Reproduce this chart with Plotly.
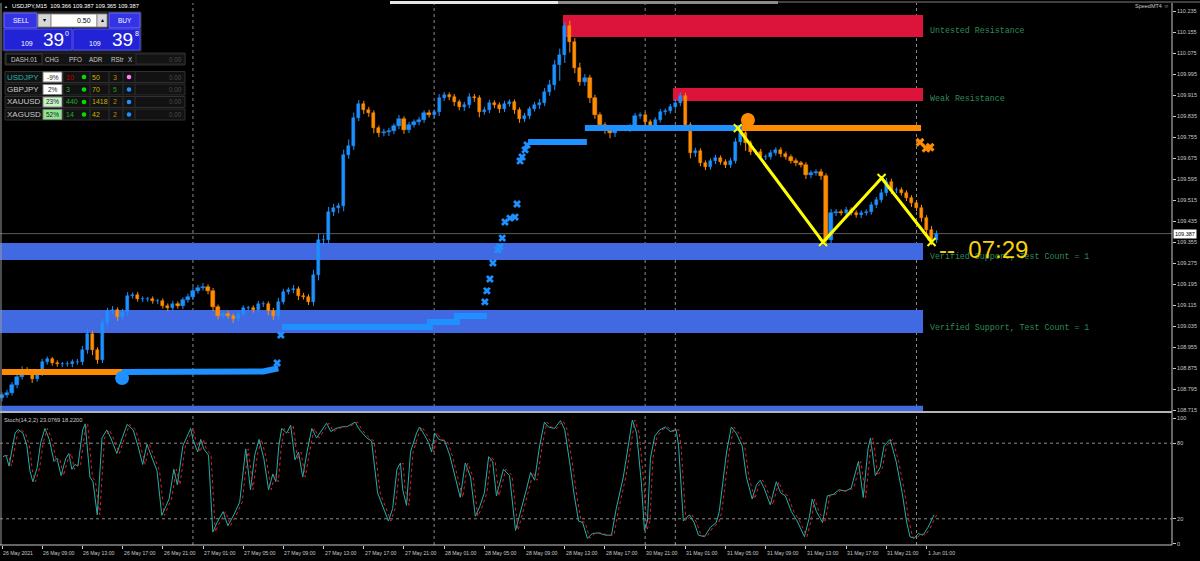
import plotly.graph_objects as go

# ---------------- data ----------------
close_prices = [
    108.772, 108.780, 108.810, 108.841, 108.868, 108.860, 108.833, 108.856, 108.898, 108.909,
    108.894, 108.890, 108.890, 108.890, 108.898, 108.898, 108.944, 109.005, 108.944, 108.906,
    109.047, 109.092, 109.096, 109.069, 109.088, 109.149, 109.153, 109.138, 109.138, 109.138,
    109.130, 109.130, 109.111, 109.104, 109.119, 109.111, 109.134, 109.146, 109.168, 109.180,
    109.184, 109.168, 109.107, 109.073, 109.081, 109.073, 109.062, 109.081, 109.104, 109.104,
    109.096, 109.119, 109.119, 109.092, 109.073, 109.127, 109.165, 109.172, 109.176, 109.149,
    109.146, 109.127, 109.229, 109.363, 109.363, 109.469, 109.485, 109.492, 109.687, 109.721,
    109.828, 109.881, 109.858, 109.847, 109.789, 109.770, 109.774, 109.778, 109.797, 109.824,
    109.782, 109.801, 109.812, 109.820, 109.847, 109.839, 109.850, 109.904, 109.915, 109.907,
    109.888, 109.869, 109.877, 109.907, 109.904, 109.850, 109.858, 109.885, 109.877, 109.862,
    109.881, 109.888, 109.858, 109.824, 109.835, 109.862, 109.877, 109.885, 109.927, 109.953,
    110.029, 110.067, 110.178, 110.117, 110.018, 109.965, 109.980, 109.904, 109.839, 109.801,
    109.782, 109.770, 109.789, 109.789, 109.789, 109.793, 109.835, 109.839, 109.812, 109.797,
    109.820, 109.850, 109.854, 109.869, 109.885, 109.911, 109.801, 109.694, 109.702, 109.656,
    109.641, 109.664, 109.675, 109.660, 109.649, 109.664, 109.736, 109.770, 109.732, 109.698,
    109.698, 109.679, 109.679, 109.694, 109.706, 109.690, 109.679, 109.664, 109.656, 109.649,
    109.610, 109.618, 109.622, 109.607, 109.363, 109.466, 109.469, 109.466, 109.477, 109.466,
    109.458, 109.466, 109.469, 109.496, 109.515, 109.542, 109.584, 109.553, 109.553, 109.542,
    109.523, 109.504, 109.485, 109.447, 109.401, 109.363, 109.387,
]
# upper / lower wick lengths of each candle (price units)
wick_up = [
    .010, .012, .012, .010, .014, .010, .010, .012, .012, .010,
    .008, .010, .008, .010, .010, .012, .015, .020, .012, .010,
    .015, .012, .015, .010, .012, .015, .010, .012, .010, .008,
    .010, .008, .010, .010, .012, .010, .010, .012, .015, .012,
    .015, .010, .012, .010, .010, .012, .010, .012, .010, .008,
    .010, .012, .010, .010, .012, .015, .012, .010, .015, .010,
    .012, .010, .020, .025, .020, .020, .015, .012, .020, .025,
    .020, .015, .012, .012, .010, .010, .012, .012, .010, .015,
    .010, .012, .010, .012, .010, .012, .010, .015, .012, .010,
    .012, .010, .012, .015, .012, .010, .012, .012, .010, .010,
    .012, .010, .010, .010, .012, .010, .012, .015, .015, .020,
    .020, .025, .015, .020, .015, .020, .015, .012, .012, .010,
    .010, .010, .012, .010, .010, .012, .012, .010, .010, .010,
    .010, .012, .010, .012, .015, .015, .012, .010, .012, .010,
    .010, .010, .012, .010, .010, .012, .015, .020, .012, .010,
    .010, .012, .010, .012, .010, .010, .010, .010, .010, .008,
    .010, .010, .010, .012, .010, .015, .012, .010, .012, .010,
    .010, .010, .010, .012, .012, .015, .015, .012, .010, .010,
    .010, .010, .010, .012, .010, .015, .012,
]
wick_down = [
    .012, .010, .010, .012, .010, .012, .015, .010, .012, .010,
    .010, .010, .012, .010, .012, .010, .012, .015, .020, .015,
    .012, .010, .012, .015, .010, .012, .010, .010, .012, .010,
    .010, .012, .010, .012, .010, .010, .012, .010, .012, .010,
    .010, .012, .015, .012, .010, .010, .015, .010, .010, .012,
    .010, .010, .012, .015, .015, .012, .010, .010, .012, .015,
    .010, .012, .015, .020, .020, .015, .015, .020, .020, .015,
    .015, .012, .015, .015, .020, .015, .012, .015, .012, .012,
    .015, .012, .010, .012, .012, .010, .012, .015, .012, .012,
    .015, .012, .015, .012, .015, .020, .010, .012, .012, .015,
    .012, .010, .015, .015, .012, .012, .010, .015, .012, .015,
    .020, .060, .030, .040, .020, .015, .015, .020, .015, .015,
    .015, .020, .015, .012, .012, .015, .012, .010, .012, .012,
    .012, .010, .012, .010, .010, .012, .015, .020, .015, .012,
    .012, .010, .012, .010, .012, .012, .010, .012, .030, .012,
    .012, .010, .012, .010, .010, .012, .010, .010, .012, .010,
    .015, .012, .010, .015, .012, .015, .012, .010, .012, .010,
    .010, .012, .010, .010, .012, .010, .012, .015, .012, .010,
    .012, .015, .012, .015, .020, .020, .012,
]
first_open = 108.760
bars_per_sample = 2
current_price = 109.387

# supply / demand zones (price low, price high)
zone_support_1 = [109.287, 109.351]
zone_support_2 = [109.008, 109.096]
zone_support_3 = [108.690, 108.731]
zone_untested = [110.136, 110.220]
zone_weak = [109.892, 109.942]
zone_start_bars = {"untested": 223.3, "weak": 267.1}
zone_end_bar = 366.6
# zone label prices (text centre)
zone_label_prices = {"untested": 110.159, "weak": 109.900, "support_1": 109.298,
                     "support_2": 109.031}

# zigzag
zigzag_bars = [292.9, 326.8, 350.1, 370.0]
zigzag_prices = [109.789, 109.355, 109.599, 109.355]

# trailing-stop style line (bar, price)
trail_orange_1_bars = [0, 47.8]
trail_orange_1_prices = [108.860, 108.860]
trail_blue_1_bars = [47.8, 104, 110]
trail_blue_1_prices = [108.860, 108.862, 108.874]
trail_blue_2_bars = [111.4, 170.3, 170.3, 181.1, 181.1, 193]
trail_blue_2_prices = [109.031, 109.031, 109.050, 109.050, 109.073, 109.073]
trail_blue_3_bars = [209.4, 232.8]
trail_blue_3_prices = [109.736, 109.736]
trail_blue_4_bars = [232.0, 294.5]
trail_blue_4_prices = [109.789, 109.789]
trail_orange_2_bars = [294.5, 365.8]
trail_orange_2_prices = [109.789, 109.789]
trail_x_blue_bars = [109.5, 111.0, 192.2, 193.0, 194.2, 195.4, 197.4, 198.2, 199.1, 200.2, 202.2,
                     204.2, 205.0, 206.2, 207.0, 208.2, 209.0]
trail_x_blue_prices = [108.894, 109.001, 109.127, 109.169, 109.214, 109.275, 109.325, 109.336,
                       109.370, 109.431, 109.446, 109.450, 109.500, 109.664, 109.679, 109.706, 109.725]
trail_x_orange_bars = [365.4, 367.8, 369.4]
trail_x_orange_prices = [109.735, 109.712, 109.716]
dot_blue = [47.8, 108.837]
dot_orange = [296.9, 109.820]

# stochastic main line (bar, value)
stoch_bars = [
    0.4, 1.6, 2.8, 5.2, 6.4, 8.3, 9.9, 11.1, 12.3, 14.0,
    15.4, 17.1, 18.8, 20.7, 21.9, 23.5, 25.4, 26.6, 27.8, 29.0,
    30.2, 32.1, 33.1, 35.0, 36.2, 37.9, 39.8, 41.7, 43.3, 45.7,
    47.4, 49.8, 52.2, 54.1, 56.0, 57.7, 59.3, 61.7, 63.6, 66.5,
    68.4, 69.8, 72.0, 73.6, 75.1, 76.0, 77.9, 79.1, 80.3, 82.2,
    83.9, 85.6, 88.0, 89.9, 92.3, 94.6, 97.0, 98.9, 100.6, 102.3,
    104.2, 106.1, 107.8, 109.0, 110.2, 111.3, 113.3, 114.9, 116.6, 118.0,
    119.7, 121.4, 123.3, 125.2, 126.9, 129.2, 130.9, 132.8, 135.2, 137.6,
    140.5, 142.4, 145.2, 147.1, 149.5, 151.9, 153.8, 155.5, 157.2, 158.6,
    159.5, 161.0, 162.6, 165.0, 166.2, 168.1, 169.8, 171.0, 172.2, 173.9,
    176.2, 178.2, 180.1, 182.4, 184.4, 186.5, 188.4, 190.1, 192.0, 193.7,
    195.3, 196.8, 199.6, 202.0, 204.4, 206.8, 208.7, 210.4, 212.0, 214.0,
    215.9, 217.5, 219.9, 222.3, 224.0, 225.9, 227.8, 229.5, 231.1, 233.0,
    235.0, 237.3, 240.2, 242.6, 244.5, 247.3, 249.3, 250.9, 252.6, 254.5,
    255.7, 256.9, 258.1, 259.8, 261.7, 264.0, 266.0, 268.3, 269.3, 271.2,
    273.6, 275.5, 277.2, 279.6, 282.0, 284.3, 285.5, 288.4, 290.3, 292.2,
    294.6, 296.3, 298.6, 300.3, 301.8, 303.4, 305.8, 308.2, 309.9, 311.8,
    314.2, 316.5, 319.4, 321.3, 322.5, 324.2, 326.6, 328.5, 330.9, 333.2,
    335.6, 338.0, 340.9, 342.8, 344.7, 345.7, 347.6, 349.5, 351.1, 353.5,
    355.9, 358.3, 360.0, 361.4, 363.1, 364.7, 366.6, 368.6, 371.0,
]
stoch_main = [
    69.3, 70.5, 61.8, 88.0, 90.9, 88.0, 78.0, 58.1, 49.4, 60.6,
    80.5, 91.7, 83.0, 65.5, 68.0, 54.3, 68.0, 71.8, 59.3, 63.1,
    61.8, 90.5, 95.4, 53.1, 49.4, 23.2, 84.2, 90.5, 84.2, 71.8,
    81.7, 94.9, 90.5, 78.0, 63.1, 79.2, 70.5, 58.1, 22.7, 35.7,
    59.3, 46.9, 78.0, 85.5, 91.7, 83.0, 73.0, 83.0, 75.5, 70.5,
    9.5, 17.0, 25.7, 14.5, 23.2, 33.2, 75.5, 43.1, 70.5, 83.0,
    68.0, 43.1, 55.6, 49.4, 78.0, 91.7, 88.0, 94.2, 66.8, 73.0,
    53.1, 73.0, 91.7, 84.2, 89.2, 95.9, 89.2, 91.7, 92.9, 93.4,
    96.7, 90.5, 84.2, 81.7, 40.6, 28.2, 18.2, 28.2, 59.3, 64.3,
    43.1, 30.7, 73.0, 88.0, 92.9, 86.7, 80.5, 73.0, 88.0, 83.0,
    81.7, 70.5, 55.6, 36.9, 64.3, 53.1, 22.0, 29.4, 40.6, 69.3,
    65.5, 38.2, 59.3, 54.3, 10.8, 28.2, 43.1, 56.8, 50.6, 78.0,
    96.7, 92.9, 91.7, 97.9, 90.5, 65.5, 38.2, 18.2, 17.0, 4.5,
    8.3, 8.8, 7.0, 7.0, 28.2, 53.1, 78.0, 98.4, 88.0, 48.1,
    10.8, 18.2, 68.0, 85.5, 90.5, 92.9, 89.2, 90.9, 78.0, 18.2,
    23.2, 17.0, 7.0, 5.8, 13.3, 17.0, 25.7, 73.0, 92.9, 88.0,
    78.0, 53.1, 35.7, 46.9, 50.6, 43.9, 31.1, 49.4, 40.6, 38.2,
    25.7, 18.2, 5.8, 20.7, 35.7, 25.7, 17.0, 38.2, 39.4, 43.1,
    41.9, 44.4, 65.5, 36.9, 75.5, 84.2, 54.3, 60.6, 78.0, 83.0,
    65.5, 40.6, 18.2, 5.8, 4.5, 8.3, 7.0, 13.3, 23.1,
]
signal_lag_bars = 1

day_separator_bars = [76, 172, 256, 268, 364]
time_labels = ["26 May 2021", "26 May 09:00", "26 May 13:00", "26 May 17:00", "26 May 21:00",
               "27 May 01:00", "27 May 05:00", "27 May 09:00", "27 May 13:00", "27 May 17:00",
               "27 May 21:00", "28 May 01:00", "28 May 05:00", "28 May 09:00", "28 May 13:00",
               "28 May 17:00", "30 May 21:00", "31 May 01:00", "31 May 05:00", "31 May 09:00",
               "31 May 13:00", "31 May 17:00", "31 May 21:00", "1 Jun 01:00"]
time_label_bars = [16 * i for i in range(len(time_labels))]
price_ticks = [108.715, 108.795, 108.875, 108.955, 109.035, 109.115, 109.195, 109.275, 109.355,
               109.435, 109.515, 109.595, 109.675, 109.755, 109.835, 109.915, 109.995, 110.075,
               110.155, 110.235]
stoch_ticks = [0, 20, 80, 100]

dash_symbols = ["USDJPY", "GBPJPY", "XAUUSD", "XAGUSD"]
dash_chg = ["-9%", "2%", "23%", "52%"]
dash_pfo = ["10", "3", "440", "14"]
dash_adr = ["50", "70", "1418", "42"]
dash_rstr = ["3", "5", "2", "2"]
dash_val = ["0.00", "0.00", "0.00", "0.00"]

# ---------------- styling ----------------
BLUE = "#1E90FF"
ORANGE = "#FF8C00"
ZONE_BLUE = "#4169E1"
ZONE_RED = "#DC143C"
LABEL_GREEN = "#2E8B57"
GRID = "#8a8a8a"
AXIS_TXT = "#C8C8C8"
FONT = "Liberation Sans"

W, H = 1200, 561
ML, MR, MT, MB = 0, 28, 3, 16
PW, PH = W - ML - MR, H - MT - MB


def fx(p):
    return (p - ML) / PW


def fy(p):
    return (H - MB - p) / PH


opens = [first_open] + close_prices[:-1]
xs = [bars_per_sample * i for i in range(len(close_prices))]
diffs = [c - o if abs(c - o) > 0.0005 else 0.0005 for o, c in zip(opens, close_prices)]
up = [c >= o for o, c in zip(opens, close_prices)]
cols = [BLUE if u else ORANGE for u in up]

fig = go.Figure()

# wicks
for want, color in [(True, BLUE), (False, ORANGE)]:
    wx, wy = [], []
    for x, o, c, wu, wd, u in zip(xs, opens, close_prices, wick_up, wick_down, up):
        if u != want:
            continue
        wx += [x, x, None]
        wy += [min(o, c) - wd, max(o, c) + wu, None]
    fig.add_trace(go.Scatter(x=wx, y=wy, mode="lines", line=dict(color=color, width=1),
                             hoverinfo="skip", connectgaps=False))

# candle bodies
fig.add_trace(go.Bar(x=xs, y=diffs, base=opens, width=1.3,
                     marker=dict(color=cols, line=dict(color=cols, width=0.5)),
                     hoverinfo="skip", xaxis="x", yaxis="y"))


def line_tr(bx, py_, color, width, axis="y", dash=None):
    fig.add_trace(go.Scatter(x=bx, y=py_, mode="lines",
                             line=dict(color=color, width=width, dash=dash),
                             hoverinfo="skip", xaxis="x", yaxis=axis))


line_tr(trail_orange_1_bars, trail_orange_1_prices, ORANGE, 6)
line_tr(trail_blue_1_bars, trail_blue_1_prices, BLUE, 6)
line_tr(trail_blue_2_bars, trail_blue_2_prices, BLUE, 6)
line_tr(trail_blue_3_bars, trail_blue_3_prices, BLUE, 6)
line_tr(trail_blue_4_bars, trail_blue_4_prices, BLUE, 6)
line_tr(trail_orange_2_bars, trail_orange_2_prices, ORANGE, 6)
fig.add_trace(go.Scatter(x=trail_x_blue_bars, y=trail_x_blue_prices, mode="markers",
                         marker=dict(symbol="x", size=7, color=BLUE, line=dict(width=0)),
                         hoverinfo="skip"))
fig.add_trace(go.Scatter(x=trail_x_orange_bars, y=trail_x_orange_prices, mode="markers",
                         marker=dict(symbol="x", size=8, color=ORANGE, line=dict(width=0)),
                         hoverinfo="skip"))
fig.add_trace(go.Scatter(x=[dot_blue[0]], y=[dot_blue[1]], mode="markers",
                         marker=dict(size=14, color=BLUE), hoverinfo="skip"))
fig.add_trace(go.Scatter(x=[dot_orange[0]], y=[dot_orange[1]], mode="markers",
                         marker=dict(size=14, color=ORANGE), hoverinfo="skip"))

# zigzag
fig.add_trace(go.Scatter(x=zigzag_bars, y=zigzag_prices, mode="lines+markers",
                         line=dict(color="#FFFF00", width=3),
                         marker=dict(symbol="x-thin", size=8, color="#FFFF00",
                                     line=dict(width=2, color="#FFFF00")),
                         hoverinfo="skip"))

# stochastic
fig.add_trace(go.Scatter(x=stoch_bars, y=stoch_main, mode="lines",
                         line=dict(color="#20B2AA", width=1), hoverinfo="skip",
                         xaxis="x", yaxis="y2"))
fig.add_trace(go.Scatter(x=[b + signal_lag_bars for b in stoch_bars], y=stoch_main, mode="lines",
                         line=dict(color="#E0202A", width=1, dash="dot"), hoverinfo="skip",
                         xaxis="x", yaxis="y2"))

shapes = []
annotations = []


def zone(x0, x1, yr, color):
    shapes.append(dict(type="rect", xref="x", yref="y", x0=x0, x1=x1, y0=yr[0], y1=yr[1],
                       fillcolor=color, line=dict(width=0), layer="below"))


xmin, xmax = -0.8, 465.7
zone(xmin, zone_end_bar, zone_support_1, ZONE_BLUE)
zone(xmin, zone_end_bar, zone_support_2, ZONE_BLUE)
zone(xmin, zone_end_bar, zone_support_3, ZONE_BLUE)
zone(zone_start_bars["untested"], zone_end_bar, zone_untested, ZONE_RED)
zone(zone_start_bars["weak"], zone_end_bar, zone_weak, ZONE_RED)

# day separators
for b in day_separator_bars:
    shapes.append(dict(type="line", xref="x", yref="paper", x0=b, x1=b, y0=0, y1=1,
                       line=dict(color=GRID, width=1, dash="dot"), layer="below"))
# stochastic levels
for lv in [20, 80]:
    shapes.append(dict(type="line", xref="paper", yref="y2", x0=0, x1=1, y0=lv, y1=lv,
                       line=dict(color=GRID, width=1, dash="dot"), layer="below"))
# current price line
shapes.append(dict(type="line", xref="paper", yref="y", x0=0, x1=1, y0=current_price,
                   y1=current_price, line=dict(color="#5a5a5a", width=1), layer="below"))


def pline(x0, y0, x1, y1, color, width=1):
    shapes.append(dict(type="line", xref="paper", yref="paper", x0=fx(x0), x1=fx(x1),
                       y0=fy(y0), y1=fy(y1), line=dict(color=color, width=width)))


def prect(x0, y0, x1, y1, fill, line=None, lw=1):
    shapes.append(dict(type="rect", xref="paper", yref="paper", x0=fx(x0), x1=fx(x1),
                       y0=fy(y1), y1=fy(y0), fillcolor=fill,
                       line=dict(color=line or fill, width=lw if line else 0)))


def pcirc(cx, cy, r, fill):
    shapes.append(dict(type="circle", xref="paper", yref="paper", x0=fx(cx - r), x1=fx(cx + r),
                       y0=fy(cy + r), y1=fy(cy - r), fillcolor=fill, line=dict(width=0)))


def ptxt(x, y, s, size, color, anchor="left", family=FONT, bg=None):
    annotations.append(dict(xref="paper", yref="paper", x=fx(x), y=fy(y), text=s,
                            showarrow=False, xanchor=anchor, yanchor="middle",
                            font=dict(size=size, color=color, family=family),
                            bgcolor=bg, borderpad=0))


# frame lines
pline(1, 3, 1, 545, "#9a9a9a")
pline(1172, 3, 1172, 545, "#C8C8C8")
pline(0, 412, 1172, 412, "#B4B4B4", 2)
pline(0, 545, 1172, 545, "#C8C8C8")
pline(778, 2, 1200, 2, "#808080")
prect(390, 1, 558, 4, "#E6E6E6")
prect(558, 1, 778, 4, "#8c8c8c")

# zone labels
def zlabel(price, s):
    annotations.append(dict(xref="x", yref="y", x=368.6, y=price, text=s, showarrow=False,
                            xanchor="left", yanchor="middle",
                            font=dict(size=8.3, color=LABEL_GREEN, family="Liberation Mono")))


zlabel(zone_label_prices["untested"], "Untested Resistance")
zlabel(zone_label_prices["weak"], "Weak Resistance")
zlabel(zone_label_prices["support_1"], "Verified Support, Test Count = 1")
zlabel(zone_label_prices["support_2"], "Verified Support, Test Count = 1")

# countdown
annotations.append(dict(xref="x", yref="y", x=372.1, y=109.328, text="--\u00a0\u00a007:29",
                        showarrow=False, xanchor="left", yanchor="middle",
                        font=dict(size=24, color="#F5D20A", family=FONT)))
# current price tag
annotations.append(dict(xref="paper", yref="y", x=fx(1173), y=current_price, text="109.387",
                        showarrow=False, xanchor="left", yanchor="middle", bgcolor="#FFFFFF",
                        borderpad=1, font=dict(size=5.5, color="#000000", family=FONT)))

# time labels
for b, s in zip(time_label_bars, time_labels):
    annotations.append(dict(xref="x", yref="paper", x=b, y=fy(553), text=s, showarrow=False,
                            xanchor="left", yanchor="middle", xshift=-1,
                            font=dict(size=5.2, color=AXIS_TXT, family=FONT)))

# header and indicator label
ptxt(3, 6, "\u25b2", 4, "#C8C8C8")
ptxt(11, 6, "USDJPY,M15  109.366 109.387 109.365 109.387", 5.8, "#FFFFFF")
ptxt(1170, 6, "SpeedMT4 \u263a", 5.5, "#C8C8C8", anchor="right")
ptxt(3, 420, "Stoch(14,2,2) 23.0769 18.2200", 5.7, "#C8C8C8")

# one-click trading panel
prect(3, 12, 141, 51, "#101010", "#3a3a3a")
prect(4, 13, 37, 28, "#3434E6", "#6a6aff")
ptxt(20.5, 20.5, "SELL", 6.5, "#FFFFFF", anchor="center")
prect(38, 14, 51, 27, "#D8D8D8", "#909090")
ptxt(44.5, 20.5, "\u25be", 6, "#000000", anchor="center")
prect(51, 14, 97, 27, "#FFFFFF", "#909090")
ptxt(92, 20.5, "0.50", 7, "#000000", anchor="right")
prect(97, 14, 107, 27, "#D8D8D8", "#909090")
ptxt(102, 20.5, "\u25b4", 6, "#000000", anchor="center")
prect(109, 13, 140, 28, "#3434E6", "#6a6aff")
ptxt(124.5, 20.5, "BUY", 6.5, "#FFFFFF", anchor="center")
prect(4, 29, 72, 50, "#2222D6", "#5050ff")
prect(73, 29, 140, 50, "#2222D6", "#5050ff")
ptxt(26.5, 43, "109", 7, "#FFFFFF", anchor="center")
ptxt(53, 40, "39", 19, "#FFFFFF", anchor="center")
ptxt(67, 33, "0", 7, "#FFFFFF", anchor="center")
ptxt(95, 43, "109", 7, "#FFFFFF", anchor="center")
ptxt(122.5, 40, "39", 19, "#FFFFFF", anchor="center")
ptxt(137, 33, "8", 7, "#FFFFFF", anchor="center")

# dashboard
prect(5, 53, 185, 65, "#141414", "#333333")
prect(6, 54, 42, 64, "#0c0c0c", "#3a3a3a")
ptxt(24, 59, "DASH.01", 6.3, "#C8C8C8", anchor="center")
for cx, s in [(52, "CHG"), (75, "PFO"), (96, "ADR"), (117, "RStr"), (130, "X")]:
    ptxt(cx, 59, s, 6.3, "#C8C8C8", anchor="center")
prect(136, 54, 185, 64, "#141414", "#2c2c2c")
ptxt(183, 59, "0.00", 6.3, "#4a4a4a", anchor="right")

chg_bg = ["#FFFFFF", "#FFFFFF", "#C8F5C8", "#8CE68C"]
pfo_col = ["#C00000", "#20B020", "#20B020", "#20B020"]
rstr_col = ["#D08000", "#20A020", "#D08000", "#D08000"]
dot_col = ["#FF80FF", BLUE, BLUE, BLUE]
sym_col = ["#20B2AA", "#C8C8C8", "#C8C8C8", "#C8C8C8"]
row_y = [77, 89.5, 102, 114.5]
for i, yc in enumerate(row_y):
    y0, y1 = yc - 5.5, yc + 5.5
    prect(5, y0, 185, y1, "#121212", "#303030")
    prect(43, y0 + 0.5, 62, y1 - 0.5, chg_bg[i], "#808080")
    pline(63, y0, 63, y1, "#303030")
    pline(90, y0, 90, y1, "#303030")
    pline(109, y0, 109, y1, "#303030")
    pline(123, y0, 123, y1, "#303030")
    pline(135, y0, 135, y1, "#303030")
    ptxt(6, yc, dash_symbols[i], 8, sym_col[i])
    ptxt(52.5, yc, dash_chg[i], 6.5, "#222222", anchor="center")
    ptxt(65, yc, dash_pfo[i], 7, pfo_col[i])
    pcirc(84, yc, 2.3, "#00E000")
    ptxt(91, yc, dash_adr[i], 7, "#C8B400")
    ptxt(115, yc, dash_rstr[i], 7, rstr_col[i], anchor="center")
    pcirc(129, yc, 2.3, dot_col[i])
    ptxt(183, yc, dash_val[i], 6.3, "#4a4a4a", anchor="right")

price_dom = [fy(411), 1]
stoch_dom = [0, fy(413)]
p_lo = 110.277 - 411 / 262.5
p_hi = 110.277 - 3 / 262.5
s_lo = -0.8
s_hi = 100 + 5 / 1.26

fig.update_layout(
    width=W, height=H,
    margin=dict(l=ML, r=MR, t=MT, b=MB),
    paper_bgcolor="#000000", plot_bgcolor="#000000",
    showlegend=False, bargap=0,
    xaxis=dict(domain=[0, 1], range=[xmin, xmax], anchor="y2", showgrid=False,
               zeroline=False, showline=False, tickvals=time_label_bars,
               ticktext=["" for _ in time_label_bars], ticks="outside", ticklen=3,
               tickcolor="#C8C8C8", showticklabels=True),
    yaxis=dict(domain=price_dom, range=[p_lo, p_hi], side="right", anchor="x",
               showgrid=False, zeroline=False, showline=False, tickvals=price_ticks,
               ticktext=[f"{v:.3f}" for v in price_ticks], ticks="outside", ticklen=3,
               tickcolor="#C8C8C8", tickfont=dict(size=5.5, color=AXIS_TXT, family=FONT)),
    yaxis2=dict(domain=stoch_dom, range=[s_lo, s_hi], side="right", anchor="x",
                showgrid=False, zeroline=False, showline=False, tickvals=stoch_ticks,
                ticks="outside", ticklen=3, tickcolor="#C8C8C8",
                tickfont=dict(size=5.5, color=AXIS_TXT, family=FONT)),
    shapes=shapes,
    annotations=annotations,
)

fig.write_html("out.html", config={"displayModeBar": False},
               post_script="document.body.style.margin='0px';"
               "document.body.style.background='#000';")
